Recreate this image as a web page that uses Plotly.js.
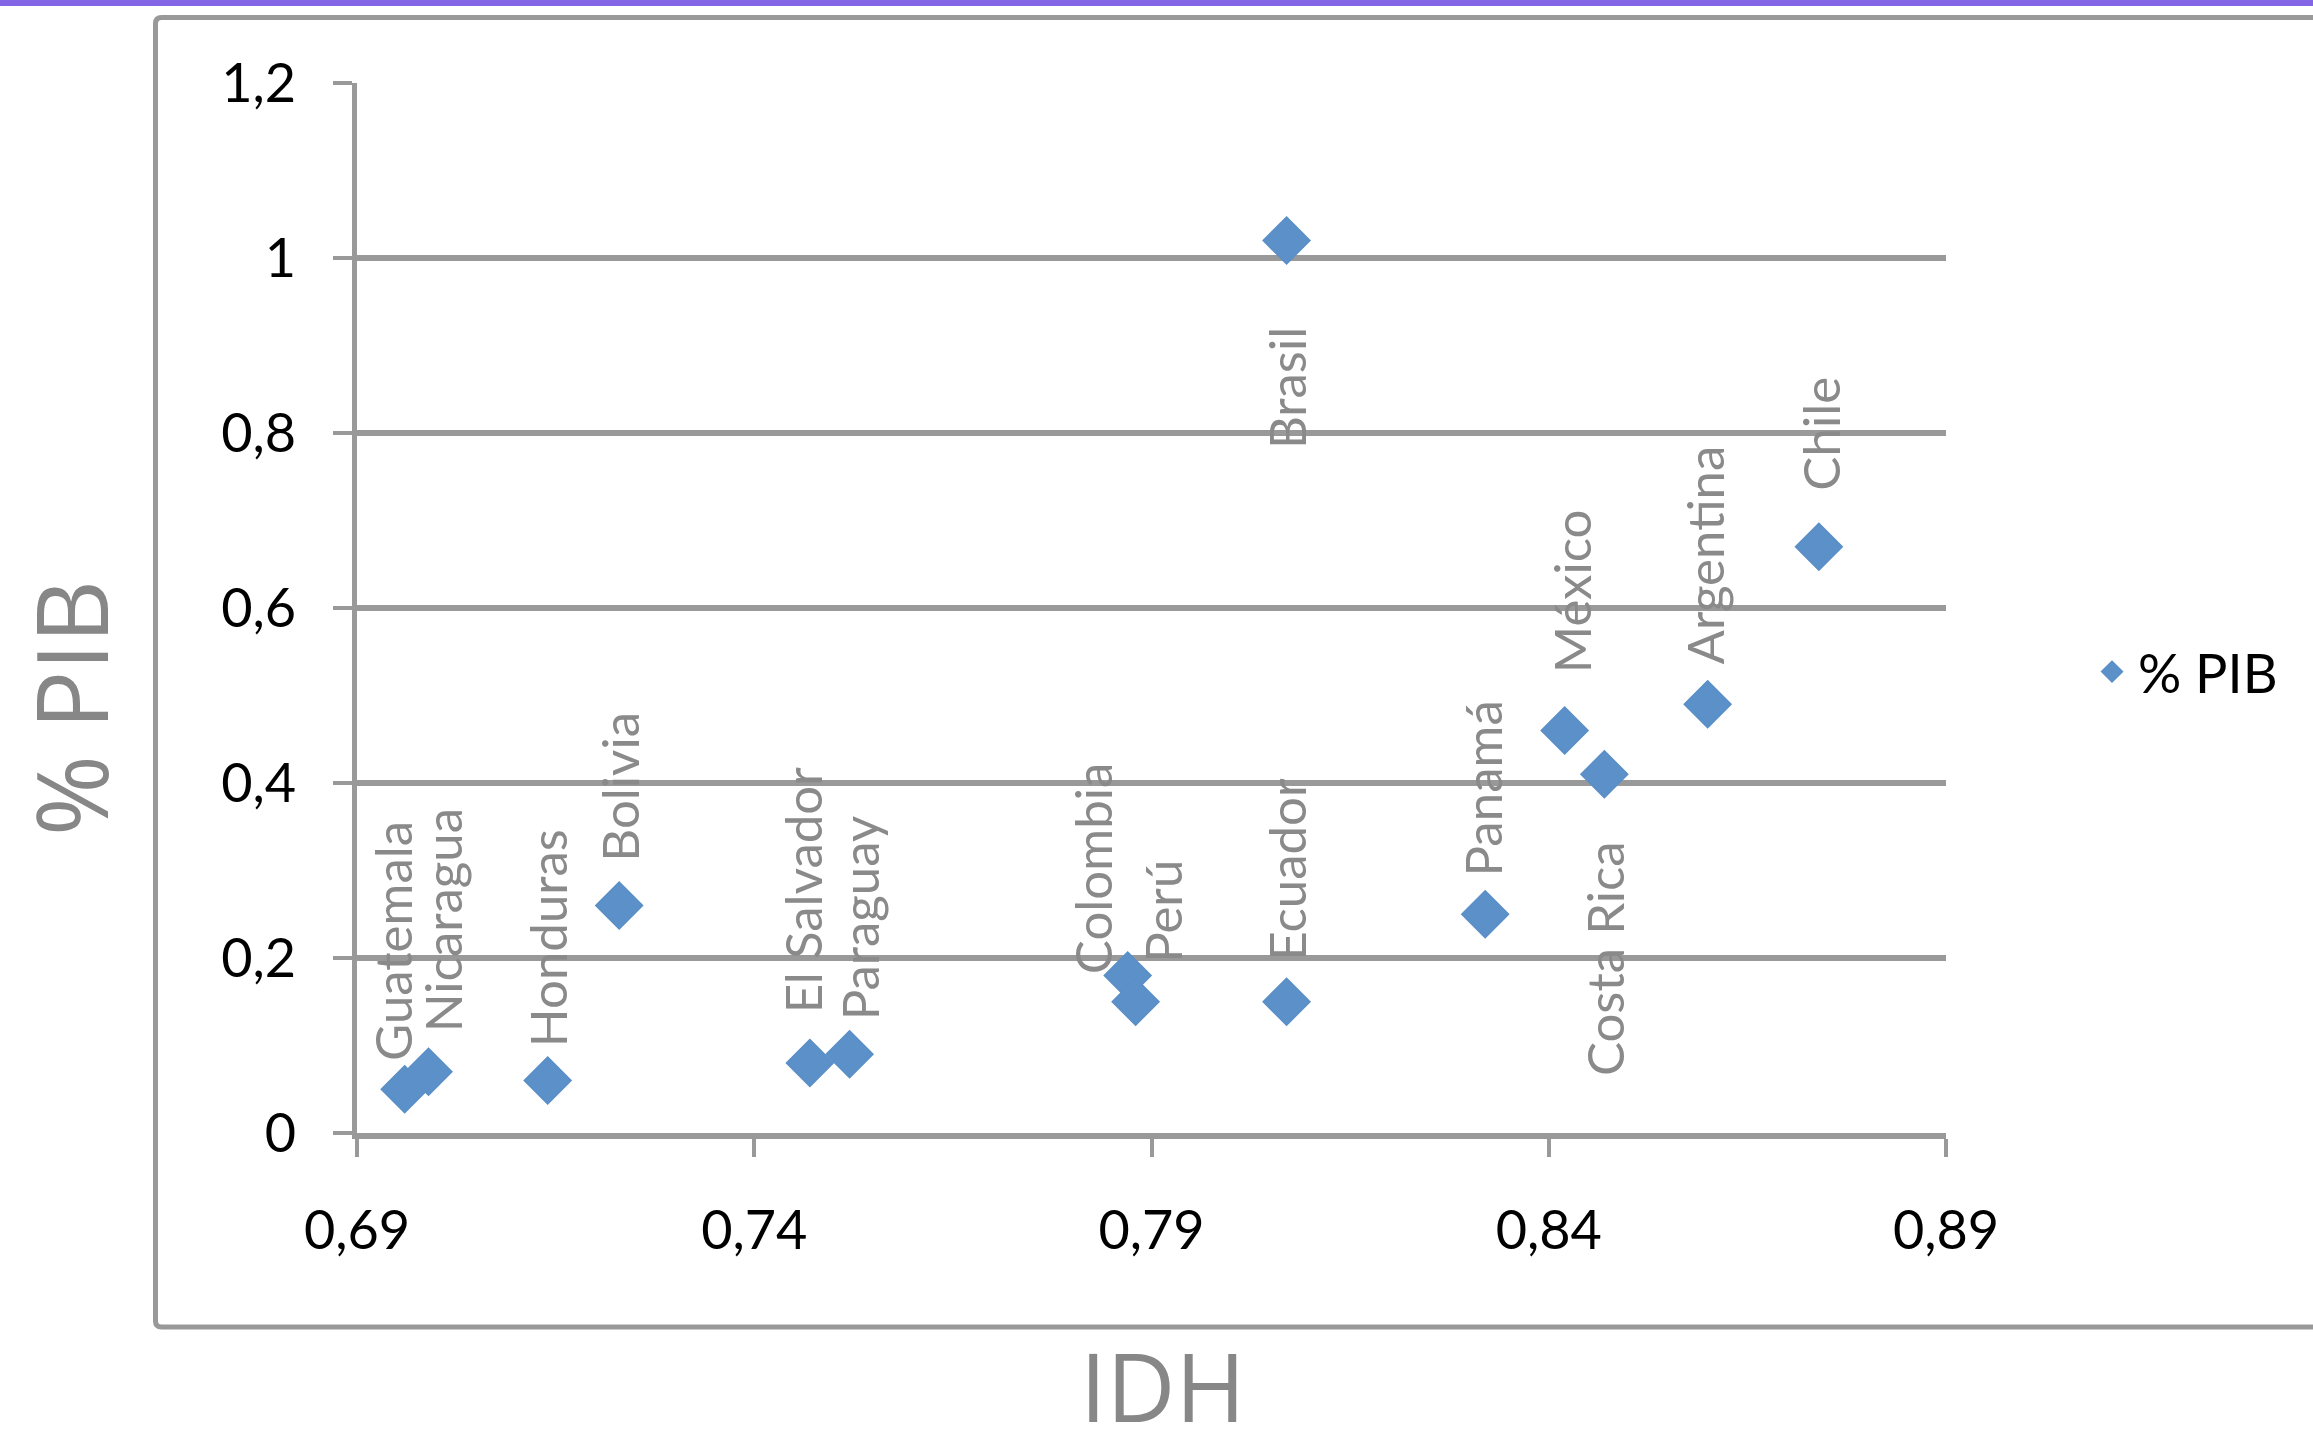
<!DOCTYPE html>
<html>
<head>
<meta charset="utf-8">
<script src="https://cdn.plot.ly/plotly-3.0.1.min.js"></script>
<style>html,body{margin:0;padding:0;background:#fff;}#chart{width:2313px;height:1452px;}</style>
</head>
<body>
<div id="chart"></div>
<script>
// ---- data ----
const countries = ["Guatemala","Nicaragua","Honduras","Bolivia","El Salvador","Paraguay","Colombia","Perú","Brasil","Ecuador","Panamá","México","Costa Rica","Argentina","Chile"];
const idh = [0.696, 0.699, 0.714, 0.723, 0.747, 0.752, 0.787, 0.788, 0.807, 0.807, 0.832, 0.842, 0.847, 0.860, 0.874];
const pib = [0.05, 0.07, 0.06, 0.26, 0.08, 0.09, 0.18, 0.15, 1.02, 0.15, 0.25, 0.46, 0.41, 0.49, 0.67];
const seriesName = "% PIB";
const xTitle = "IDH";
const yTitle = "% PIB";

// ---- label placement (pixels: dx, distance, side) ----
const labelPlace = {
  "Guatemala": [-12, 27, "above"],
  "Nicaragua": [14, 38, "above"],
  "Honduras": [0, 32, "above"],
  "Bolivia": [0, 43, "above"],
  "El Salvador": [-7, 49, "above"],
  "Paraguay": [10, 33, "above"],
  "Colombia": [-35, 0, "above"],
  "Perú": [27, 38, "above"],
  "Brasil": [0, 86, "below"],
  "Ecuador": [0, 40, "above"],
  "Panamá": [-3, 37, "above"],
  "México": [7, 56, "above"],
  "Costa Rica": [0, 66, "below"],
  "Argentina": [-3, 39, "above"],
  "Chile": [2, 55, "above"]
};

// ---- layout geometry ----
const W = 2313, H = 1452;
const L = 357, R = 1946, T = 83, B = 1133;
const PW = R - L, PH = B - T;
const px2x = p => (p - L) / PW;
const px2y = p => (B - p) / PH;

const GRID = '#999999';
const LABEL = '#8a8a8a';
const TITLE = '#878787';

const labelAnns = countries.map((c, i) => {
  const p = labelPlace[c];
  const above = p[2] === "above";
  return {
    x: idh[i], y: pib[i], xref: 'x', yref: 'y',
    text: c, showarrow: false, textangle: -90,
    xanchor: 'center', yanchor: above ? 'bottom' : 'top',
    xshift: p[0], yshift: above ? p[1] : -p[1],
    font: {family: 'Lato, sans-serif', size: 51, color: LABEL},
    borderpad: 0
  };
});

// axis titles
labelAnns.push({
  xref: 'paper', yref: 'paper', x: px2x(70), y: px2y(708),
  text: yTitle, showarrow: false, textangle: -90,
  xanchor: 'center', yanchor: 'middle',
  font: {family: '"Open Sans", sans-serif', size: 98, color: TITLE},
  borderpad: 0
});
labelAnns.push({
  xref: 'paper', yref: 'paper', x: px2x(1163), y: px2y(1451),
  text: xTitle, showarrow: false,
  xanchor: 'center', yanchor: 'bottom',
  font: {family: '"Open Sans", sans-serif', size: 95, color: TITLE},
  borderpad: 0
});

// frame with rounded corners
const fl = px2x(155.5), ft = px2y(17.5), fb = px2y(1327), fr = px2x(2340);
const rx = 6 / PW, ry = 6 / PH;
const framePath = `M ${fr},${ft} L ${fl + rx},${ft} Q ${fl},${ft} ${fl},${ft - ry} L ${fl},${fb + ry} Q ${fl},${fb} ${fl + rx},${fb} L ${fr},${fb}`;

const shapes = [
  {type: 'path', xref: 'paper', yref: 'paper', path: framePath, line: {color: GRID, width: 5}, layer: 'below'},
  {type: 'rect', xref: 'paper', yref: 'paper', x0: px2x(-10), x1: px2x(W + 10), y0: px2y(6), y1: px2y(-5), fillcolor: '#8366e6', line: {width: 0}}
];

const trace = {
  type: 'scatter', mode: 'markers', name: seriesName,
  x: idh, y: pib, text: countries,
  marker: {symbol: 'diamond', size: 36, color: '#5b90c8', line: {color: '#5a8fc7', width: 1.5}},
  hoverinfo: 'text+x+y', cliponaxis: false
};

const layout = {
  width: W, height: H, autosize: false,
  margin: {l: L, r: W - R, t: T, b: H - B, pad: 0},
  paper_bgcolor: '#ffffff', plot_bgcolor: '#ffffff',
  separators: ',.',
  font: {family: 'Lato, sans-serif', size: 54, color: '#000'},
  showlegend: true,
  legend: {x: px2x(2086), y: px2y(672), xanchor: 'left', yanchor: 'middle', itemwidth: 42,
           font: {family: 'Lato, sans-serif', size: 54, color: '#000'}, bgcolor: 'rgba(0,0,0,0)'},
  xaxis: {
    range: [0.69, 0.89], tick0: 0.69, dtick: 0.05, tickformat: '.2f',
    showgrid: false, zeroline: false,
    showline: true, linecolor: GRID, linewidth: 6,
    ticks: 'outside', ticklen: 18, tickwidth: 4, tickcolor: GRID,
    ticklabelstandoff: 27,
    tickfont: {family: 'Lato, sans-serif', size: 54, color: '#000'},
    fixedrange: true
  },
  yaxis: {
    range: [0, 1.2], tick0: 0, dtick: 0.2,
    showgrid: true, gridcolor: GRID, gridwidth: 6, zeroline: false,
    showline: true, linecolor: GRID, linewidth: 5,
    ticks: 'outside', ticklen: 19, tickwidth: 4, tickcolor: GRID,
    ticklabelstandoff: 26,
    tickfont: {family: 'Lato, sans-serif', size: 54, color: '#000'},
    fixedrange: true
  },
  annotations: labelAnns,
  shapes: shapes
};

Plotly.newPlot('chart', [trace], layout, {displayModeBar: false, staticPlot: true});
</script>
</body>
</html>
